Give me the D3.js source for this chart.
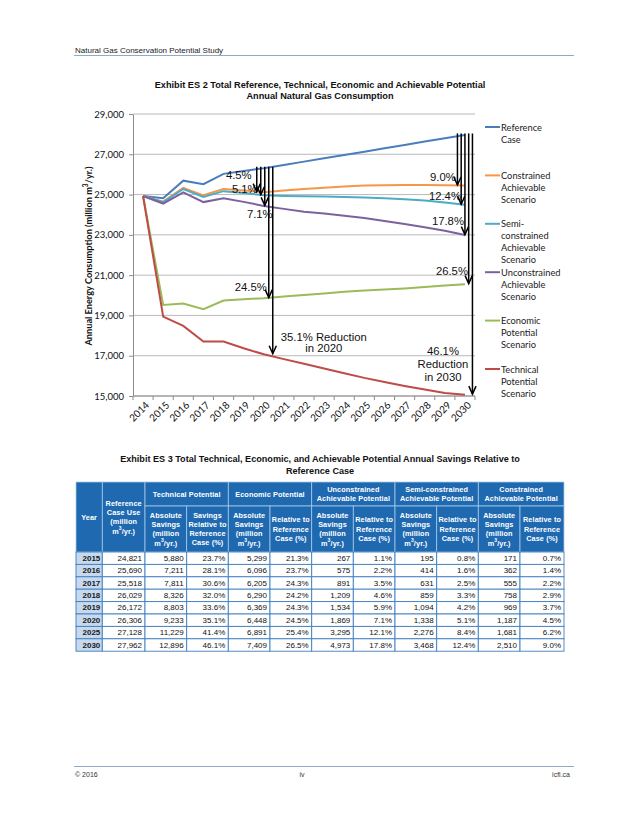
<!DOCTYPE html>
<html><head><meta charset="utf-8">
<script src="https://cdn.jsdelivr.net/npm/d3@7"></script>
<style>body{margin:0;background:#fff}svg{display:block}</style>
</head><body>
<svg id="page" width="638" height="826"></svg>
<script>
// ---------- DATA ----------
const years = ["2014","2015","2016","2017","2018","2019","2020","2021","2022","2023","2024","2025","2026","2027","2028","2029","2030"];
const referenceCase = [24930,24821,25690,25518,26029,26172,26306,26470,26635,26800,26965,27128,27295,27460,27630,27795,27962];
const constrainedAch = [24930,24650,25328,24963,25271,25203,25119,25200,25280,25340,25400,25447,25460,25470,25470,25465,25452];
const semiConstrainedAch = [24930,24626,25276,24887,25170,25078,24968,24935,24915,24900,24880,24852,24815,24770,24700,24610,24494];
const unconstrainedAch = [24930,24554,25115,24627,24820,24638,24437,24290,24150,24060,23950,23833,23690,23540,23380,23200,22989];
const economicPot = [24930,19522,19594,19313,19739,19803,19858,19940,20010,20090,20170,20237,20290,20340,20410,20480,20553];
const technicalPot = [24930,18941,18479,17707,17703,17369,17073,16830,16600,16370,16130,15899,15700,15500,15320,15150,15066];
const yTicks = [15000,17000,19000,21000,23000,25000,27000,29000];

const seriesNames = ["Reference Case","Constrained Achievable Scenario","Semi-constrained Achievable Scenario","Unconstrained Achievable Scenario","Economic Potential Scenario","Technical Potential Scenario"];
const legendLines = [["Reference","Case"],["Constrained","Achievable","Scenario"],["Semi-","constrained","Achievable","Scenario"],["Unconstrained","Achievable","Scenario"],["Economic","Potential","Scenario"],["Technical","Potential","Scenario"]];

// table data
const tableYears = ["2015","2016","2017","2018","2019","2020","2025","2030"];
const refUse = [24821,25690,25518,26029,26172,26306,27128,27962];
const techAbs = [5880,7211,7811,8326,8803,9233,11229,12896];
const techPct = [23.7,28.1,30.6,32.0,33.6,35.1,41.4,46.1];
const econAbs = [5299,6096,6205,6290,6369,6448,6891,7409];
const econPct = [21.3,23.7,24.3,24.2,24.3,24.5,25.4,26.5];
const uncAbs = [267,575,891,1209,1534,1869,3295,4973];
const uncPct = [1.1,2.2,3.5,4.6,5.9,7.1,12.1,17.8];
const semiAbs = [195,414,631,859,1094,1338,2276,3468];
const semiPct = [0.8,1.6,2.5,3.3,4.2,5.1,8.4,12.4];
const consAbs = [171,362,555,758,969,1187,1681,2510];
const consPct = [0.7,1.4,2.2,2.9,3.7,4.5,6.2,9.0];

// annotation texts
const ann2020 = ["4.5%","5.1%","7.1%","24.5%",["35.1% Reduction","in 2020"]];
const ann2030 = ["9.0%","12.4%","17.8%","26.5%",["46.1%","Reduction","in 2030"]];

// ---------- STYLE / LAYOUT ----------
const colors = ["#4a7ebb","#f79646","#4bacc6","#7d60a0","#9bbb59","#be4b48"];
const seriesData = [referenceCase,constrainedAch,semiConstrainedAch,unconstrainedAch,economicPot,technicalPot];
const XL = "Lato, 'Open Sans', sans-serif";
const AR = "'Liberation Sans', Arial, sans-serif";

const svg = d3.select("#page");

// page header
svg.append("text").attr("x",75).attr("y",50).attr("dominant-baseline","central")
  .style("font",`8px ${AR}`).attr("fill","#222").text("Natural Gas Conservation Potential Study");
svg.append("line").attr("x1",74).attr("x2",574).attr("y1",55.5).attr("y2",55.5).attr("stroke","#8eaac6").attr("stroke-width",1);

// chart title
[["Exhibit ES 2 Total Reference, Technical, Economic and Achievable Potential",85],["Annual Natural Gas Consumption",96]].forEach(([t,yy])=>{
  svg.append("text").attr("x",320).attr("y",yy).attr("text-anchor","middle").attr("dominant-baseline","central")
    .style("font",`bold 9.2px ${AR}`).attr("fill","#111").text(t);
});

// scales
const x = d3.scaleBand().domain(years).range([133,475]);
const y = d3.scaleLinear().domain([15000,29000]).range([396,114]);
const cx = d => x(d) + x.bandwidth()/2;

// gridlines
svg.append("g").selectAll("line").data(yTicks).join("line")
  .attr("x1",133).attr("x2",475).attr("y1",d=>y(d)).attr("y2",d=>y(d))
  .attr("stroke","#a8a8a8").attr("stroke-width",0.8);

// y axis
const ya = svg.append("g").attr("transform","translate(133,0)")
  .call(d3.axisLeft(y).tickValues(yTicks).tickFormat(d3.format(",")).tickSize(4).tickSizeOuter(0).tickPadding(5));
ya.select(".domain").attr("stroke","#8c8c8c");
ya.selectAll(".tick line").attr("stroke","#8c8c8c");
ya.selectAll("text").style("font",`9.5px ${XL}`).attr("fill","#111");

// x axis line and boundary ticks
svg.append("line").attr("x1",133).attr("x2",475).attr("y1",y(15000)).attr("y2",y(15000)).attr("stroke","#8c8c8c");
const bounds = years.map(d=>x(d)).concat([x.range()[1]]);
svg.append("g").selectAll("line").data(bounds).join("line")
  .attr("x1",d=>d).attr("x2",d=>d).attr("y1",y(15000)).attr("y2",y(15000)+4).attr("stroke","#8c8c8c");
svg.append("g").selectAll("text").data(years).join("text")
  .attr("transform",d=>`translate(${cx(d)+4},${y(15000)+7}) rotate(-45)`)
  .attr("text-anchor","end").attr("dominant-baseline","central")
  .style("font",`10px ${XL}`).attr("fill","#111").text(d=>d);

// y axis title
const yt = svg.append("text").attr("transform","translate(88,256) rotate(-90)").attr("text-anchor","middle")
  .attr("dominant-baseline","central").style("font",`bold 9.2px ${XL}`).attr("fill","#111");
yt.append("tspan").text("Annual Energy Consumption (million m");
yt.append("tspan").attr("dy",-3).style("font-size","6.5px").text("3");
yt.append("tspan").attr("dy",3).text("/yr.)");

// series lines
const line = d3.line().x((d,i)=>cx(years[i])).y(d=>y(d));
svg.append("g").selectAll("path").data(seriesData).join("path")
  .attr("d",line).attr("fill","none").attr("stroke",(d,i)=>colors[i]).attr("stroke-width",2);

// legend
const lg = svg.append("g").selectAll("g").data(legendLines).join("g")
  .attr("transform",(d,i)=>`translate(485,${127+i*48.4})`);
lg.append("line").attr("x1",0).attr("x2",15).attr("y1",0).attr("y2",0).attr("stroke",(d,i)=>colors[i]).attr("stroke-width",2);
lg.each(function(lines){
  d3.select(this).selectAll("text").data(lines).join("text")
    .attr("x",16).attr("y",(d,j)=>j*12).attr("dominant-baseline","central")
    .style("font",`9.3px ${XL}`).attr("fill","#222").text(d=>d);
});

// annotations
const defs = svg.append("defs");
defs.append("marker").attr("id","ah").attr("viewBox","-10 -5 12 10").attr("refX",0).attr("refY",0)
  .attr("markerWidth",12).attr("markerHeight",10).attr("markerUnits","userSpaceOnUse").attr("orient","auto")
  .append("path").attr("d","M-8,-3.6L0,0L-8,3.6").attr("fill","none").attr("stroke","#000").attr("stroke-width",1.5);

const targets = [constrainedAch,semiConstrainedAch,unconstrainedAch,economicPot,technicalPot];
function annotate(year, offsets, texts, labelPos){
  const i = years.indexOf(year);
  const xc = cx(year);
  const gL = svg.append("g");
  texts.forEach((t,k)=>{
    const lines = Array.isArray(t)?t:[t];
    const ty = y(targets[k][i]);
    const p = labelPos[k];
    lines.forEach((s,j)=>{
      gL.append("text").attr("x",xc+p[0]).attr("y",ty+p[1]+j*p[2]).attr("text-anchor","middle")
        .attr("dominant-baseline","central").style("font",`11.3px ${AR}`).attr("fill","#111").text(s);
    });
  });
  const gA = svg.append("g");
  targets.forEach((s,k)=>{
    gA.append("line").attr("x1",xc+offsets[k]).attr("x2",xc+offsets[k])
      .attr("y1",y(referenceCase[i])-1.5).attr("y2",y(s[i])-0.5)
      .attr("stroke","#000").attr("stroke-width",1.5).attr("marker-end","url(#ah)");
  });
}
annotate("2020",[-7,-3,1,5,9],ann2020,[[-25,-17.5,0],[-19,-6.5,0],[-4,8.4,0],[-13,-10.8,0],[60,-17.6,11.6]]);
annotate("2030",[-7.5,-3.75,0,3.75,7.5],ann2030,[[-22,-8.8,0],[-20,-8.8,0],[-17,-14.4,0],[-13,-13.5,0],[-22,-44,13]]);

// ---------- TABLE ----------
[["Exhibit ES 3 Total Technical, Economic, and Achievable Potential Annual Savings Relative to",459],["Reference Case",470.5]].forEach(([t,yy])=>{
  svg.append("text").attr("x",320).attr("y",yy).attr("text-anchor","middle").attr("dominant-baseline","central")
    .style("font",`bold 9.1px ${AR}`).attr("fill","#111").text(t);
});

const colX = [76,102.3,145,186.7,228.3,270,311.7,353.3,395,436.7,478.3,520,564];
const hTop = 482, hMid = 506, hBot = 552, rowH = 12.4;
const headBlue = "#1f69b1", borderBlue = "#3f7fc0";

const absLines = ["Absolute","Savings","(million","m³/yr.)"];
const relLines = ["Relative to","Reference","Case (%)"];
const headCells = [
  {c0:0,c1:1,r0:hTop,r1:hBot,lines:["Year"]},
  {c0:1,c1:2,r0:hTop,r1:hBot,lines:["Reference","Case Use","(million","m³/yr.)"]},
  {c0:2,c1:4,r0:hTop,r1:hMid,lines:["Technical Potential"]},
  {c0:4,c1:6,r0:hTop,r1:hMid,lines:["Economic Potential"]},
  {c0:6,c1:8,r0:hTop,r1:hMid,lines:["Unconstrained","Achievable Potential"]},
  {c0:8,c1:10,r0:hTop,r1:hMid,lines:["Semi-constrained","Achievable Potential"]},
  {c0:10,c1:12,r0:hTop,r1:hMid,lines:["Constrained","Achievable Potential"]},
  {c0:2,c1:3,r0:hMid,r1:hBot,lines:absLines},
  {c0:3,c1:4,r0:hMid,r1:hBot,lines:["Savings","Relative to","Reference","Case (%)"]},
  {c0:4,c1:5,r0:hMid,r1:hBot,lines:absLines},
  {c0:5,c1:6,r0:hMid,r1:hBot,lines:relLines},
  {c0:6,c1:7,r0:hMid,r1:hBot,lines:absLines},
  {c0:7,c1:8,r0:hMid,r1:hBot,lines:relLines},
  {c0:8,c1:9,r0:hMid,r1:hBot,lines:absLines},
  {c0:9,c1:10,r0:hMid,r1:hBot,lines:relLines},
  {c0:10,c1:11,r0:hMid,r1:hBot,lines:absLines},
  {c0:11,c1:12,r0:hMid,r1:hBot,lines:relLines}
];
const tg = svg.append("g");
tg.selectAll("rect.h").data(headCells).join("rect").attr("class","h")
  .attr("x",d=>colX[d.c0]).attr("y",d=>d.r0).attr("width",d=>colX[d.c1]-colX[d.c0]).attr("height",d=>d.r1-d.r0)
  .attr("fill",headBlue).attr("stroke","#a9c8e8").attr("stroke-width",0.8);
headCells.forEach(d=>{
  const xm = (colX[d.c0]+colX[d.c1])/2, ym = (d.r0+d.r1)/2, lh = 9.3;
  d.lines.forEach((s,j)=>{
    const t = tg.append("text").attr("x",xm).attr("y",ym+(j-(d.lines.length-1)/2)*lh).attr("text-anchor","middle")
      .attr("dominant-baseline","central").style("font",`bold 7.3px ${AR}`).style("letter-spacing","0.1px").attr("fill","#fff");
    if(s.includes("³")){
      const [a,b] = s.split("³");
      t.append("tspan").text(a);
      t.append("tspan").attr("dy",-2.5).style("font-size","5px").text("3");
      t.append("tspan").attr("dy",2.5).text(b);
    } else t.text(s);
  });
});

const fmt = d3.format(",");
const pf = v => v.toFixed(1)+"%";
const cols = [refUse.map(fmt),techAbs.map(fmt),techPct.map(pf),econAbs.map(fmt),econPct.map(pf),uncAbs.map(fmt),uncPct.map(pf),semiAbs.map(fmt),semiPct.map(pf),consAbs.map(fmt),consPct.map(pf)];
tableYears.forEach((yr,i)=>{
  const y0 = hBot + i*rowH;
  const row = tg.append("g");
  for(let c=0;c<12;c++){
    row.append("rect").attr("x",colX[c]).attr("y",y0).attr("width",colX[c+1]-colX[c]).attr("height",rowH)
      .attr("fill",c===0?"#c6d9ef":"#fff").attr("stroke",borderBlue).attr("stroke-width",0.9);
  }
  row.append("text").attr("x",colX[1]-2).attr("y",y0+rowH/2).attr("text-anchor","end").attr("dominant-baseline","central")
    .style("font",`bold 8px ${AR}`).attr("fill","#1a1a1a").text(yr);
  cols.forEach((col,c)=>{
    row.append("text").attr("x",colX[c+2]-3).attr("y",y0+rowH/2).attr("text-anchor","end").attr("dominant-baseline","central")
      .style("font",`8px ${AR}`).attr("fill","#111").text(col[i]);
  });
});

// footer
svg.append("line").attr("x1",74).attr("x2",574).attr("y1",766.5).attr("y2",766.5).attr("stroke","#8eaac6").attr("stroke-width",1);
svg.append("text").attr("x",75).attr("y",774.5).attr("dominant-baseline","central").style("font",`7px ${AR}`).attr("fill","#333").text("© 2016");
svg.append("text").attr("x",302).attr("y",774.5).attr("text-anchor","middle").attr("dominant-baseline","central").style("font",`7px ${AR}`).attr("fill","#333").text("iv");
svg.append("text").attr("x",570).attr("y",774.5).attr("text-anchor","end").attr("dominant-baseline","central").style("font",`7px ${AR}`).attr("fill","#333").text("icfi.ca");
</script>
</body></html>
